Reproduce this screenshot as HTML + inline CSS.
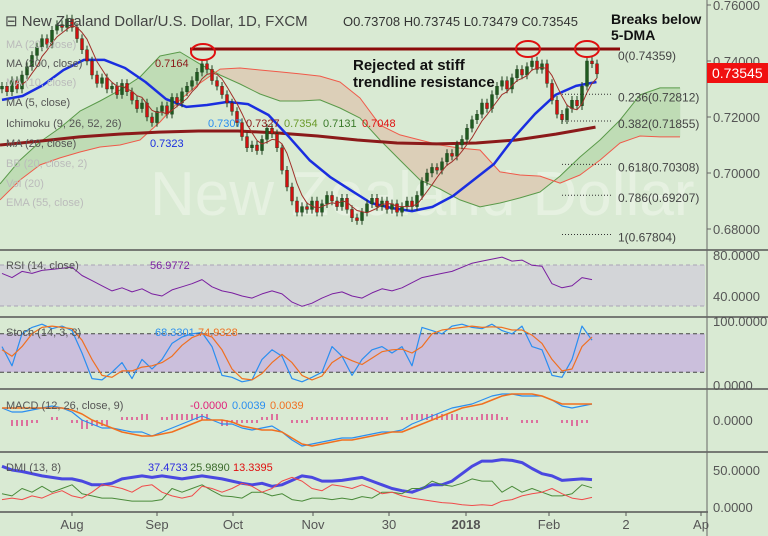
<!DOCTYPE html>
<html><head><meta charset="utf-8"><style>
body{margin:0;background:#d9ead3;width:768px;height:536px;overflow:hidden;font-family:"Liberation Sans",sans-serif}
svg{position:absolute;left:0;top:0}
</style></head><body>
<svg id="c" width="768" height="536" xmlns="http://www.w3.org/2000/svg">
<rect width="768" height="536" fill="#d9ead3"/>
<g id="main"></g>
</svg>
<script>
const closes=[0.731,0.729,0.733,0.730,0.735,0.738,0.742,0.745,0.748,0.746,0.751,0.753,0.752,0.755,0.752,0.748,0.744,0.740,0.735,0.732,
0.734,0.730,0.731,0.728,0.732,0.729,0.726,0.723,0.725,0.720,0.718,0.722,0.724,0.721,0.727,0.725,0.729,0.731,0.733,0.736,
0.739,0.737,0.733,0.731,0.728,0.725,0.722,0.718,0.713,0.709,0.710,0.708,0.712,0.716,0.714,0.709,0.701,0.695,0.690,0.686,
0.688,0.687,0.690,0.686,0.689,0.692,0.690,0.688,0.691,0.687,0.684,0.683,0.686,0.689,0.691,0.688,0.690,0.687,0.689,0.686,
0.688,0.690,0.688,0.692,0.697,0.700,0.702,0.701,0.704,0.707,0.706,0.710,0.712,0.716,0.719,0.721,0.725,0.723,0.728,0.731,
0.733,0.730,0.734,0.737,0.735,0.738,0.740,0.737,0.739,0.732,0.726,0.721,0.719,0.723,0.726,0.724,0.731,0.740,0.739,0.7354];
const ma20=[0.7261,0.7275,0.7314,0.7368,0.7404,0.7404,0.7375,0.7325,0.7264,0.7236,0.7243,0.7254,0.7246,0.7207,0.7129,0.7046,0.6986,0.6939,0.6893,0.6875,0.6864,0.6879,0.6918,0.6975,0.7032,0.7129,0.7211,0.7279,0.7311,0.7325];
const ma200=[0.7100,0.7114,0.7129,0.7139,0.7146,0.7150,0.7150,0.7143,0.7132,0.7118,0.7107,0.7104,0.7107,0.7118,0.7139,0.7164];
const spanA=[0.6961,0.7046,0.7111,0.7161,0.7221,0.7257,0.7296,0.7343,0.7418,0.7432,0.7389,0.7350,0.7318,0.7282,0.7257,0.7257,0.7261,0.7232,0.7196,0.7118,0.7046,0.6975,0.6943,0.6904,0.6879,0.6893,0.6911,0.6932,0.6989,0.7057,0.7118,0.7189,0.7279,0.7304,0.7304];
const spanB=[0.6904,0.6975,0.7029,0.7054,0.7075,0.7093,0.7100,0.7118,0.7182,0.7261,0.7321,0.7371,0.7375,0.7368,0.7361,0.7354,0.7346,0.7325,0.7268,0.7171,0.7136,0.7118,0.7100,0.7089,0.7082,0.7004,0.6993,0.6989,0.6964,0.6993,0.7046,0.7107,0.7132,0.7129,0.7129];
const fibLevels=[0.74359,0.72812,0.71855,0.70308,0.69207,0.67804];
const fibNames=["0","0.236","0.382","0.618","0.786","1"];
const priceTicks=["0.76000","0.74000","0.72000","0.70000","0.68000"];
const priceTickVals=[0.76,0.74,0.72,0.70,0.68];
const rsi=[62,58,64,62,65,66,67,68,60,55,50,45,48,44,47,42,40,46,49,52,56,49,45,43,40,38,42,45,42,34,30,33,38,42,44,40,38,43,47,45,48,53,58,60,62,64,68,72,74,76,78,74,75,70,69,52,48,50,58,56];
const stochK=[60,30,80,90,95,88,92,85,50,10,8,20,35,10,40,25,40,65,75,80,82,60,15,12,5,8,40,55,45,10,5,12,20,60,45,15,40,55,60,50,60,30,90,85,80,92,95,90,88,95,85,80,92,60,55,15,12,40,92,70];
const stochD=[55,45,60,80,90,92,90,88,70,40,15,12,22,22,28,30,35,45,62,74,80,75,55,25,10,8,18,35,48,35,15,8,14,35,45,38,32,42,52,55,56,50,60,80,86,88,90,92,90,91,90,86,86,78,65,40,22,25,60,75];
const macd=[3,2,2,2.5,3,3.5,3,2,0,-1,-2,-2,-2.5,-3,-3,-4,-3,-2,-1,0,1,0,-1,-1,-2,-2.5,-2,-1.5,-3,-5,-6.5,-6,-5.5,-5,-4.5,-4.5,-4,-3.5,-3,-3,-2.5,-1,0,1,2,3,3.5,4,5,6,6.5,6.5,6,6,6,5,3.5,3,3.5,4];
const signal=[3,3,3,3,3,3,3,2.5,1.5,0,-1,-2,-3,-3.5,-4,-4,-3.5,-3,-2,-1,0,0,0,-0.5,-1.5,-2,-2.5,-2.5,-3,-4.5,-6,-6.5,-6,-5.5,-5,-5,-4.5,-4,-3.5,-3,-3,-2,-1,0,1,2,3,3.5,4,5,6,6.5,6.5,6.5,6,5,4,4,4,4];
const adx=[55,50,48,45,42,40,38,38,35,30,30,32,38,40,42,40,42,40,38,40,42,40,38,35,32,30,32,28,30,36,42,40,35,35,36,38,40,35,30,25,22,20,25,30,30,35,45,55,62,62,64,63,60,52,45,42,36,37,38,37];
const plusDI=[18,15,25,20,28,20,25,30,18,15,12,12,10,8,8,8,10,25,20,25,30,22,15,14,12,20,20,15,18,10,8,12,12,10,12,10,14,12,20,20,18,25,25,35,30,28,32,38,35,35,20,28,20,25,20,15,15,18,30,26];
const minusDI=[10,12,10,15,12,18,22,15,12,20,30,28,25,20,28,30,20,15,12,15,28,25,20,25,32,28,20,25,35,40,35,25,22,30,28,25,30,25,18,20,15,12,10,8,6,5,3,2,3,2,8,10,15,18,20,25,18,12,10,13];
const timeLabels=["Aug","Sep","Oct","Nov","30","2018","Feb","2","Ap"];
const timeX=[72,157,233,313,389,466,549,626,701];

const NS="http://www.w3.org/2000/svg";
const svg=document.getElementById('c');
function el(t,a,p){const e=document.createElementNS(NS,t);for(const k in a)e.setAttribute(k,a[k]);(p||svg).appendChild(e);return e;}
const py=p=>5+(0.76-p)*2800;
const bx=i=>2+i*5;
const sx=i=>2+i*10;
const rsiY=v=>255+(80-v)*41/40;
const stY=v=>385-v*0.64;
const macdY=v=>420-v*4;
const dmiY=v=>507-v*0.74;
function poly(xs,ys,stroke,w,name,extra){
  let d=xs.map((x,i)=>(i?'L':'M')+x.toFixed(1)+' '+ys[i].toFixed(1)).join(' ');
  const e=el('path',Object.assign({d:d,fill:'none',stroke:stroke,'stroke-width':w,'stroke-linejoin':'round'},extra||{}));
  
  
  return e;
}
// watermark
const wm=el('text',{x:150,y:215,'font-size':62,fill:'#e6f1e1','font-family':'Liberation Sans'});wm.textContent='New Zealand Dollar';


// cloud
const cx=i=>i*20;
for(let i=0;i<spanA.length-1;i++){
  const up=(spanA[i]+spanA[i+1])>(spanB[i]+spanB[i+1]);
  const c=el('polygon',{points:`${cx(i)},${py(spanA[i])} ${cx(i+1)},${py(spanA[i+1])} ${cx(i+1)},${py(spanB[i+1])} ${cx(i)},${py(spanB[i])}`,fill:up?'#bfdcb5':'#dccfb8',stroke:up?'#bfdcb5':'#dccfb8','stroke-width':0.5});
  
  
}
poly(spanA.map((v,i)=>cx(i)),spanA.map(py),'#5a9a4a',1,'ichimoku-span-a');
poly(spanB.map((v,i)=>cx(i)),spanB.map(py),'#f05a4a',1,'ichimoku-span-b');
// ma200
poly(ma200.map((v,i)=>i*39.7),ma200.map(py),'#8b1a1a',3,'ma200-line');
// ma20
poly(ma20.map((v,i)=>2+i*20.5),ma20.map(py),'#1a2ee0',2.5,'ma20-line');
// candles
for(let i=0;i<closes.length;i++){
  const c=closes[i],o=i?closes[i-1]:c-0.001;
  const hi=Math.max(o,c)+0.0015,lo=Math.min(o,c)-0.0015;
  const up=c>=o,x=bx(i);
  const w=el('line',{x1:x,x2:x,y1:py(hi),y2:py(lo),stroke:'#1d3d1d','stroke-width':1});
  
  
  const b=el('rect',{x:x-1.5,y:py(Math.max(o,c)),width:3,height:Math.max(1,Math.abs(py(o)-py(c))),fill:up?'#1f5a1f':'#d01010',stroke:'#1d3d1d','stroke-width':0.4});
  
  
}
// ma5 from closes
const m5x=[],m5y=[];
for(let i=4;i<closes.length;i++){let s=0;for(let k=0;k<5;k++)s+=closes[i-k];m5x.push(bx(i));m5y.push(py(s/5));}
poly(m5x,m5y,'#a0302a',1,'ma5-line');
// resistance line
const rl=el('line',{x1:190,x2:620,y1:49,y2:49,stroke:'#8b0a0a','stroke-width':3});


[[203,52],[528,49],[587,49]].forEach(p=>{const e=el('ellipse',{cx:p[0],cy:p[1],rx:12,ry:8,fill:'none',stroke:'#e01010','stroke-width':2});

});
// fib
fibLevels.forEach((v,i)=>{
  if(i>0){const l=el('line',{x1:562,x2:612,y1:py(v),y2:py(v),stroke:'#333','stroke-width':1,'stroke-dasharray':'1,2'});
  
  }
  const t=el('text',{x:618,y:py(v)+(i==0?9:7),'font-size':12,fill:'#444'});t.textContent=fibNames[i]+'('+v.toFixed(5)+')';
  
  
});
// panes
const rb=el('rect',{x:0,y:265,width:705,height:41,fill:'#d3d5d8'});


[265,306].forEach(y=>{const l=el('line',{x1:0,x2:705,y1:y,y2:y,stroke:'#a9a3b6','stroke-dasharray':'4,3'});

});
poly(rsi.map((v,i)=>sx(i)),rsi.map(rsiY),'#7a1fa0',1,'rsi-line');
const sb=el('rect',{x:0,y:stY(80),width:705,height:stY(20)-stY(80),fill:'#cbbfdc'});


[80,20].forEach(v=>{const l=el('line',{x1:0,x2:705,y1:stY(v),y2:stY(v),stroke:'#444','stroke-dasharray':'4,3'});

});
poly(stochK.map((v,i)=>sx(i)),stochK.map(stY),'#2a8ef0',1.2,'stoch-k-line');
poly(stochD.map((v,i)=>sx(i)),stochD.map(stY),'#f07020',1.2,'stoch-d-line');
macd.forEach((v,i)=>{const h=(v-signal[i])*3;
  for(let k=0;k<2;k++){const x=sx(i)+k*5;const l=el('line',{x1:x,x2:x,y1:420,y2:420-h*2,stroke:'#e0207a','stroke-width':1.2});
  
  }
});
poly(macd.map((v,i)=>sx(i)),macd.map(macdY),'#2a8ef0',1.2,'macd-line');
poly(signal.map((v,i)=>sx(i)),signal.map(macdY),'#f07020',1.5,'macd-signal-line');
poly(adx.map((v,i)=>sx(i)),adx.map(dmiY),'#4a48e0',3,'adx-line');
poly(plusDI.map((v,i)=>sx(i)),plusDI.map(dmiY),'#4a8a3a',1,'plus-di-line');
poly(minusDI.map((v,i)=>sx(i)),minusDI.map(dmiY),'#f04a4a',1,'minus-di-line');
// separators & axes
[250,317,389,452].forEach(y=>{const l=el('line',{x1:0,x2:768,y1:y,y2:y,stroke:'#555','stroke-width':1.5});

});
const al=el('line',{x1:0,x2:708,y1:512,y2:512,stroke:'#555','stroke-width':1.5});


const vl=el('line',{x1:707,x2:707,y1:0,y2:536,stroke:'#666','stroke-width':1});


function axText(x,y,s,name,opts){const t=el('text',Object.assign({x:x,y:y,'font-size':13,fill:'#555'},opts||{}));t.textContent=s;

return t;}
priceTicks.forEach((s,i)=>{const y=py(priceTickVals[i]);el('line',{x1:707,x2:711,y1:y,y2:y,stroke:'#666'});axText(713,y+5,s,'price-tick-label');});
[[80,255],[40,296]].forEach(a=>axText(713,a[1]+5,a[0].toFixed(4),'rsi-tick-label'));
[[100,321],[0,385]].forEach(a=>axText(713,a[1]+5,a[0].toFixed(4),'stoch-tick-label'));
axText(713,425,'0.0000','macd-tick-label');
[[50,470],[0,507]].forEach(a=>axText(713,a[1]+5,a[0].toFixed(4),'dmi-tick-label'));
timeLabels.forEach((s,i)=>{axText(timeX[i],529,s,'time-label',{'text-anchor':'middle','font-weight':s=='2018'?'bold':'normal'});
el('line',{x1:timeX[i],x2:timeX[i],y1:512,y2:516,stroke:'#555'});});
// price box
const pb=el('rect',{x:707,y:63,width:61,height:20,fill:'#f01010'});


axText(712,78,'0.73545','last-price-label',{fill:'#fff','font-size':14});
// legends
axText(5,26,'⊟ New Zealand Dollar/U.S. Dollar, 1D, FXCM','chart-title',{'font-size':15,fill:'#444'});
axText(343,26,'O0.73708  H0.73745  L0.73479  C0.73545','ohlc-values',{'font-size':13,fill:'#333'});
const leg=[['MA (20, close)',48,'#bbb'],['MA (200, close)',67,'#555'],['MA (10, close)',86,'#bbb'],['MA (5, close)',106,'#555'],['Ichimoku (9, 26, 52, 26)',127,'#555'],['MA (20, close)',147,'#555'],['BB (20, close, 2)',167,'#bbb'],['Vol (20)',187,'#bbb'],['EMA (55, close)',206,'#bbb']];
leg.forEach(l=>axText(6,l[1],l[0],'indicator-legend',{'font-size':11,fill:l[2]}));
axText(155,67,'0.7164','ma200-value',{'font-size':11,fill:'#8b1a1a'});
axText(150,147,'0.7323','ma20-value',{'font-size':11,fill:'#1a2ee0'});
[['0.7307','#2a8ef0',208],['0.7327','#8b1a1a',246],['0.7354','#6a9a2a',284],['0.7131','#3a7a2a',323],['0.7048','#e01010',362]].forEach(a=>axText(a[2],127,a[0],'ichimoku-value',{'font-size':11,fill:a[1]}));
axText(6,269,'RSI (14, close)','rsi-legend',{'font-size':11,fill:'#555'});
axText(150,269,'56.9772','rsi-value',{'font-size':11,fill:'#7a1fa0'});
axText(6,336,'Stoch (14, 3, 3)','stoch-legend',{'font-size':11,fill:'#555'});
axText(155,336,'68.3301','stoch-k-value',{'font-size':11,fill:'#2a8ef0'});
axText(198,336,'74.9328','stoch-d-value',{'font-size':11,fill:'#f07020'});
axText(6,409,'MACD (12, 26, close, 9)','macd-legend',{'font-size':11,fill:'#555'});
axText(190,409,'-0.0000','macd-hist-value',{'font-size':11,fill:'#e0207a'});
axText(232,409,'0.0039','macd-value',{'font-size':11,fill:'#2a8ef0'});
axText(270,409,'0.0039','signal-value',{'font-size':11,fill:'#f07020'});
axText(6,471,'DMI (13, 8)','dmi-legend',{'font-size':11,fill:'#555'});
axText(148,471,'37.4733','adx-value',{'font-size':11,fill:'#2a2ae0'});
axText(190,471,'25.9890','plus-di-value',{'font-size':11,fill:'#3a6a2a'});
axText(233,471,'13.3395','minus-di-value',{'font-size':11,fill:'#e01010'});
// annotations
axText(353,70,'Rejected at stiff','annotation-rejected',{'font-size':15,'font-weight':'bold',fill:'#111'});
axText(353,87,'trendline resistance','annotation-rejected-2',{'font-size':15,'font-weight':'bold',fill:'#111'});
axText(611,24,'Breaks below','annotation-breaks',{'font-size':14,'font-weight':'bold',fill:'#111'});
axText(611,40,'5-DMA','annotation-breaks-2',{'font-size':14,'font-weight':'bold',fill:'#111'});
</script>
</body></html>
